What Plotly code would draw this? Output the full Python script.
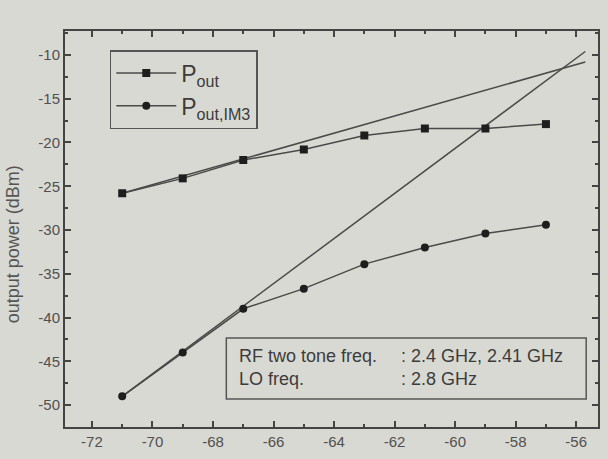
import plotly.graph_objects as go

# ---- data ----
input_power = [-71, -69, -67, -65, -63, -61, -59, -57]
p_out = [-25.8, -24.1, -22.0, -20.8, -19.2, -18.4, -18.4, -17.9]
p_out_im3 = [-49.0, -44.0, -39.0, -36.7, -33.9, -32.0, -30.4, -29.4]

fund_fit_x = [-71, -55.7]
fund_fit_y = [-25.8, -10.8]
im3_fit_x = [-71, -55.7]
im3_fit_y = [-49.0, -9.6]

x_ticks = [-72, -70, -68, -66, -64, -62, -60, -58, -56]
y_ticks = [-50, -45, -40, -35, -30, -25, -20, -15, -10]

info_labels = ["RF two tone freq.", "LO freq."]
info_values = [": 2.4 GHz, 2.41 GHz", ": 2.8 GHz"]

BG = "#d9d9d3"
INK = "#3c3c3c"
LINE = "#4a4a4a"
FONT = "Liberation Sans, Arial, sans-serif"

fig = go.Figure()

fig.add_trace(go.Scatter(x=fund_fit_x, y=fund_fit_y, mode="lines",
                         line=dict(color=LINE, width=1.5), showlegend=False,
                         hoverinfo="skip"))
fig.add_trace(go.Scatter(x=im3_fit_x, y=im3_fit_y, mode="lines",
                         line=dict(color=LINE, width=1.5), showlegend=False,
                         hoverinfo="skip"))
fig.add_trace(go.Scatter(x=input_power, y=p_out, mode="lines+markers",
                         name="P<sub>out</sub>",
                         line=dict(color=LINE, width=1.5),
                         marker=dict(symbol="square", size=8, color="#1e1e1e")))
fig.add_trace(go.Scatter(x=input_power, y=p_out_im3, mode="lines+markers",
                         name="P<sub>out,IM3</sub>",
                         line=dict(color=LINE, width=1.5),
                         marker=dict(symbol="circle", size=8, color="#1e1e1e")))

axis_common = dict(
    showline=True, linecolor="#444", linewidth=2, mirror="ticks",
    ticks="inside", ticklen=6, tickwidth=1.5, tickcolor="#444",
    showgrid=False, zeroline=False,
    tickfont=dict(family=FONT, size=15, color="#505050"),
)

fig.update_xaxes(range=[-72.89, -55.28], tickvals=x_ticks,
                 ticktext=[str(v) for v in x_ticks],
                 minor=dict(ticks="inside", ticklen=3, tickcolor="#444", dtick=1, tick0=-72),
                 **axis_common)
fig.update_yaxes(range=[-52.51, -7.26], tickvals=y_ticks,
                 ticktext=[str(v) for v in y_ticks],
                 minor=dict(ticks="inside", ticklen=3, tickcolor="#444", dtick=2.5, tick0=-50),
                 **axis_common)

# information box
fig.add_shape(type="rect", xref="x", yref="y", x0=-67.56, x1=-55.67, y0=-49.31, y1=-42.34,
              line=dict(color="#555", width=1.5), fillcolor="rgba(0,0,0,0)")
fig.add_annotation(xref="x", yref="y", x=-67.2, y=-45.71, xanchor="left", yanchor="middle",
                   text="<br>".join(info_labels), showarrow=False, align="left",
                   font=dict(family=FONT, size=18, color=INK))
fig.add_annotation(xref="x", yref="y", x=-61.85, y=-45.71, xanchor="left", yanchor="middle",
                   text="<br>".join(info_values), showarrow=False, align="left",
                   font=dict(family=FONT, size=18, color=INK))

# y-axis title
fig.add_annotation(xref="paper", yref="paper", x=-0.097, y=0.462, textangle=-90,
                   xanchor="center", yanchor="middle",
                   text="output power (dBm)", showarrow=False,
                   font=dict(family=FONT, size=18, color="#555"))

fig.update_layout(
    width=608, height=459,
    margin=dict(l=65, r=8, t=31, b=32),
    paper_bgcolor=BG, plot_bgcolor=BG,
    font=dict(family=FONT, color=INK),
    legend=dict(x=0.084, y=0.952, xanchor="left", yanchor="top",
                bgcolor="rgba(0,0,0,0)", bordercolor="#555", borderwidth=1.5,
                font=dict(family=FONT, size=23, color=INK),
                itemwidth=60, tracegroupgap=0),
)

fig.write_html("out.html")
